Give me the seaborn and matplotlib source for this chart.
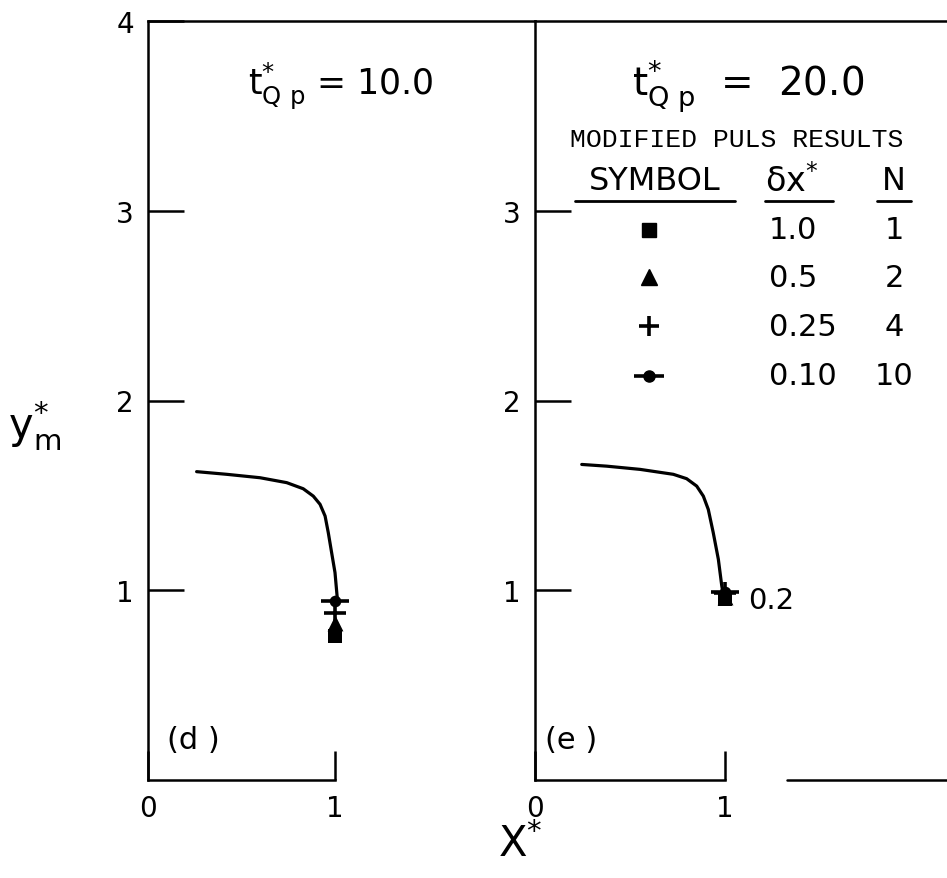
import matplotlib
matplotlib.use("Agg")
import matplotlib.pyplot as plt
import seaborn as sns
import pandas as pd

# ---- traced data (x*, y*_m) ----
curve_d_x = [0.26, 0.421, 0.599, 0.742, 0.830, 0.884, 0.920, 0.947, 0.964, 0.982, 1.000, 1.012]
curve_d_y = [1.625, 1.611, 1.593, 1.567, 1.535, 1.496, 1.453, 1.391, 1.304, 1.198, 1.093, 0.960]

curve_e_x = [0.246, 0.377, 0.553, 0.728, 0.798, 0.851, 0.886, 0.912, 0.938, 0.965, 0.983, 0.99]
curve_e_y = [1.663, 1.654, 1.637, 1.611, 1.588, 1.549, 1.496, 1.426, 1.304, 1.163, 1.023, 0.984]

# Modified Puls results at X* = 1
symbols = ["s", "^", "+", "o"]
dx_labels = ["1.0", "0.5", "0.25", "0.10"]
n_labels = ["1", "2", "4", "10"]
points_x = [1.0, 1.0, 1.0, 1.0]
points_d_y = [0.76, 0.83, 0.88, 0.942]
points_e_y = [0.953, 0.965, 0.984, 0.99]

y_ticks_d = [1, 2, 3, 4]
y_ticks_e = [1, 2, 3]
x_ticks = [0, 1]

sns.set_style("white")
plt.rcParams["font.family"] = ["DejaVu Sans"]
plt.rcParams["mathtext.default"] = "regular"
plt.rcParams["text.color"] = "black"

fig = plt.figure(figsize=(9.47, 8.79), dpi=100)
W, H = 947, 879
bottom = (H - 781) / H
height = (781 - 22) / H
ax_d = fig.add_axes([148 / W, bottom, (535 - 148) / W, height])
ax_e = fig.add_axes([535 / W, bottom, (947 - 535) / W, height])


def draw_markers(ax, ys):
    df = pd.DataFrame({"x": points_x, "y": ys, "sym": symbols})
    sq = df[df["sym"] == "s"]
    tri = df[df["sym"] == "^"]
    plus = df[df["sym"] == "+"]
    circ = df[df["sym"] == "o"]
    sns.scatterplot(data=sq, x="x", y="y", marker="s", s=110, color="black",
                    linewidth=0, ax=ax, zorder=4)
    sns.scatterplot(data=tri, x="x", y="y", marker="^", s=130, color="black",
                    linewidth=0, ax=ax, zorder=4)
    sns.scatterplot(data=plus, x="x", y="y", marker="+", s=250, color="black",
                    linewidth=2.6, ax=ax, zorder=4)
    sns.scatterplot(data=circ, x="x", y="y", marker="o", s=70, color="black",
                    linewidth=0, ax=ax, zorder=4)
    sns.scatterplot(data=circ, x="x", y="y", marker="_", s=420, color="black",
                    linewidth=2.6, ax=ax, zorder=4)


for ax, cx, cy, pys, yt in [(ax_d, curve_d_x, curve_d_y, points_d_y, y_ticks_d),
                           (ax_e, curve_e_x, curve_e_y, points_e_y, y_ticks_e)]:
    sns.lineplot(x=cx, y=cy, color="black", linewidth=2.3, sort=False, ax=ax)
    draw_markers(ax, pys)
    ax.set_ylim(0, 4)
    ax.set_yticks(yt)
    ax.set_yticklabels([str(t) for t in yt])
    ax.set_xticks(x_ticks)
    ax.set_xticklabels([str(t) for t in x_ticks])
    ax.tick_params(axis="y", which="major", left=True, direction="in", length=26, width=1.8,
                   pad=10, labelsize=20, colors="black")
    ax.tick_params(axis="x", which="major", bottom=True, direction="in", length=21, width=1.8,
                   pad=10, labelsize=20, colors="black")
    for side in ["left", "top", "bottom"]:
        ax.spines[side].set_linewidth(1.8)
        ax.spines[side].set_color("black")
    ax.spines["right"].set_visible(False)
    ax.spines["bottom"].set_bounds(0, 1)
    ax.set_xlabel("")
    ax.set_ylabel("")

ax_d.set_xlim(0, 387 / 187)
ax_e.set_xlim(0, 412 / 190)
ax_e.axhline(0, xmin=(787 - 535) / 412, xmax=1, color="black", linewidth=1.8, clip_on=False)

# titles
ax_d.text(1.03, 3.66, r"$t^{*}_{Q\ p}$ = 10.0", fontsize=25, ha="center", va="center")
ax_e.text(1.12, 3.66, r"$t^{*}_{Q\ p}$  =  20.0", fontsize=28, ha="center", va="center")

# panel labels
ax_d.text(0.10, 0.216, "(d )", fontsize=22, ha="left", va="center")
ax_e.text(0.05, 0.216, "(e )", fontsize=22, ha="left", va="center")
ax_e.text(1.12, 0.95, "0.2", fontsize=21, ha="left", va="center")

# legend table
ax_e.text(1.063, 3.38, "MODIFIED PULS RESULTS", family="Liberation Mono", fontsize=19,
          ha="center", va="center")
ax_e.text(0.63, 3.16, "SYMBOL", fontsize=23, ha="center", va="center")
ax_e.text(1.21, 3.16, r"$\delta x^{*}$", fontsize=24, ha="left", va="center")
ax_e.text(1.89, 3.16, "N", fontsize=23, ha="center", va="center")
for x0, x1 in [(0.21, 1.05), (1.21, 1.57), (1.80, 1.98)]:
    ax_e.plot([x0, x1], [3.05, 3.05], color="black", linewidth=2)

row_y = [2.90, 2.65, 2.39, 2.13]
for sym, dx, n, ry in zip(symbols, dx_labels, n_labels, row_y):
    if sym == "s":
        ax_e.plot(0.60, ry, marker="s", markersize=10, color="black", linestyle="none")
    elif sym == "^":
        ax_e.plot(0.60, ry, marker="^", markersize=11, color="black", linestyle="none")
    elif sym == "+":
        ax_e.plot(0.60, ry, marker="+", markersize=15, markeredgewidth=2.6, color="black", linestyle="none")
    else:
        ax_e.plot(0.60, ry, marker="o", markersize=8, color="black", linestyle="none")
        ax_e.plot(0.60, ry, marker="_", markersize=21, markeredgewidth=2.6, color="black", linestyle="none")
    ax_e.text(1.23, ry, dx, fontsize=22, ha="left", va="center")
    ax_e.text(1.89, ry, n, fontsize=22, ha="center", va="center")

# axis labels
fig.text(35 / W, 1 - 425 / H, r"$y^{*}_{m}$", fontsize=30, ha="center", va="center")
fig.text(520 / W, 1 - 845 / H, r"$X^{*}$", fontsize=30, ha="center", va="center")

fig.savefig("out.png", dpi=100)
